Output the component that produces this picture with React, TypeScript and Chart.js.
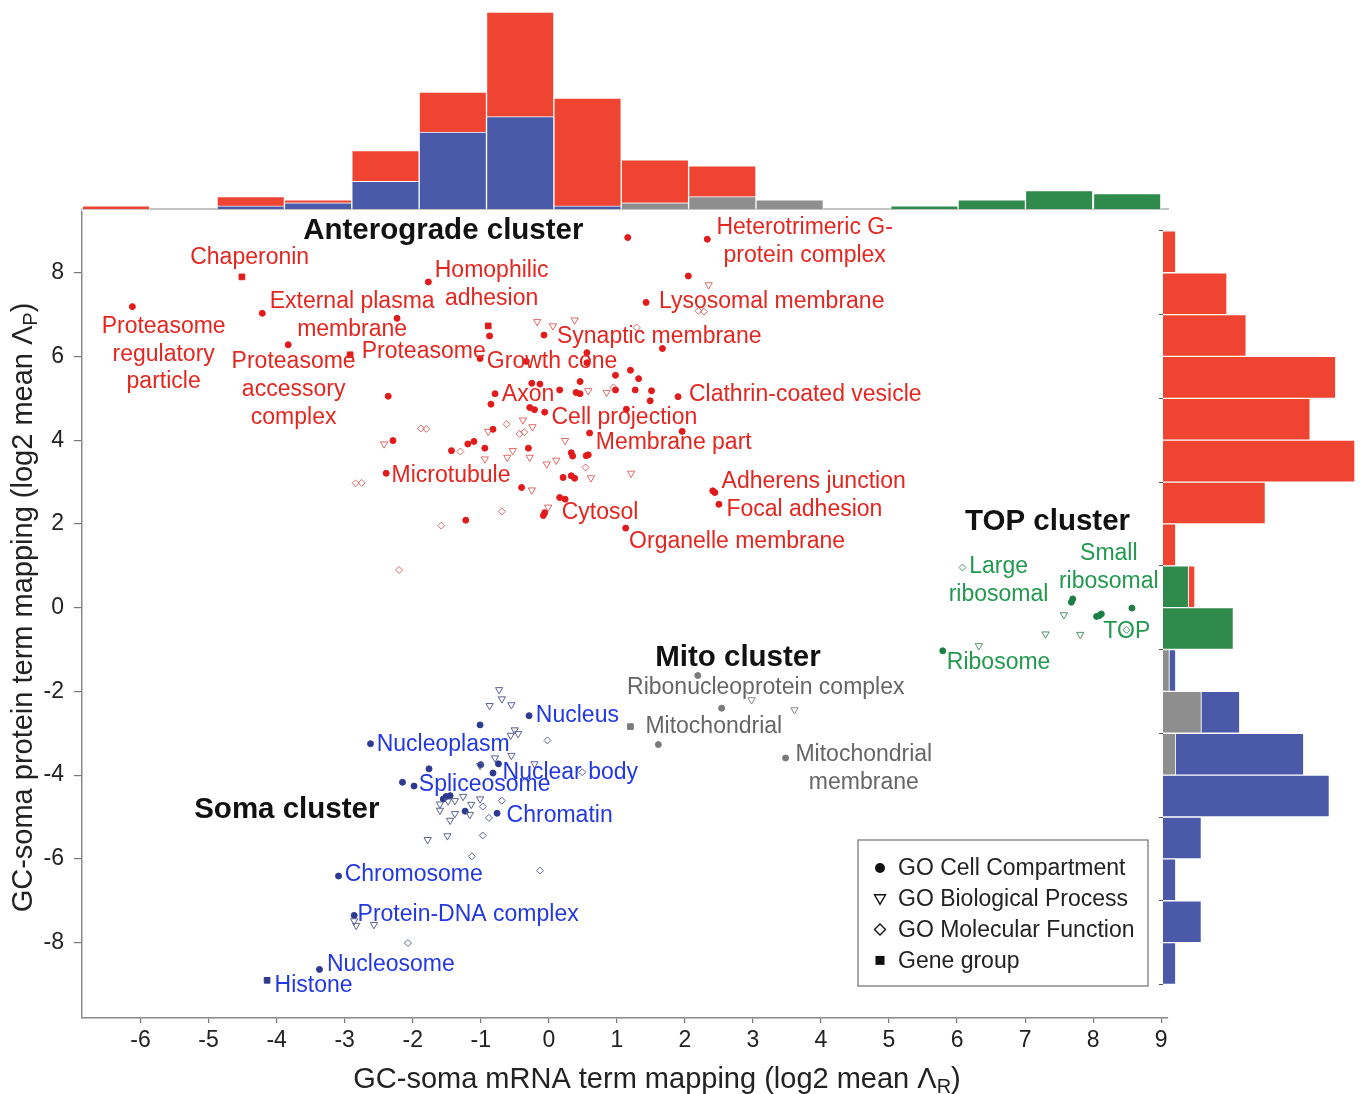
import React, { useEffect, useRef } from 'react';
import { Chart, registerables } from 'chart.js';

Chart.register(...registerables);

const FONT = '"Liberation Sans", Arial, Helvetica, sans-serif';
const W = 1361;
const H = 1094;

// ---------- axes ----------
const X_MIN = -6.86;
const X_MAX = 9.1;
const Y_MIN = -9.8;
const Y_MAX = 9.45;
const xTickValues = [-6, -5, -4, -3, -2, -1, 0, 1, 2, 3, 4, 5, 6, 7, 8, 9];
const yTickValues = [-8, -6, -4, -2, 0, 2, 4, 6, 8];
const xAxisTitle: [string, boolean][] = [['GC-soma mRNA term mapping (log2 mean Λ', false], ['R', true], [')', false]];
const yAxisTitle: [string, boolean][] = [['GC-soma protein term mapping (log2 mean Λ', false], ['P', true], [')', false]];

// ---------- top histogram (counts per mRNA bin) ----------
const topBinCenters = [-6.36, -5.37, -4.38, -3.39, -2.40, -1.41, -0.42, 0.57, 1.56, 2.55, 3.54, 4.53, 5.52, 6.51, 7.50, 8.50];
const topGray = [0, 0, 0, 0, 0, 0, 0, 0, 2, 4, 3, 0, 0, 0, 0, 0];
const topGreen = [0, 0, 0, 0, 0, 0, 0, 0, 0, 0, 0, 0, 1, 3, 6, 5];
const topBlue = [0, 0, 1, 2, 9, 25, 30, 1, 0, 0, 0, 0, 0, 0, 0, 0];
const topRed = [1, 0, 3, 1, 10, 13, 34, 35, 14, 10, 0, 0, 0, 0, 0, 0];

// ---------- right histogram (counts per protein bin) ----------
const rightBinCenters = [8.5, 7.5, 6.5, 5.5, 4.5, 3.5, 2.5, 1.5, 0.5, -0.5, -1.5, -2.5, -3.5, -4.5, -5.5, -6.5, -7.5, -8.5];
const rightGray = [0, 0, 0, 0, 0, 0, 0, 0, 0, 0, 1, 6, 2, 0, 0, 0, 0, 0];
const rightGreen = [0, 0, 0, 0, 0, 0, 0, 0, 4, 11, 0, 0, 0, 0, 0, 0, 0, 0];
const rightBlue = [0, 0, 0, 0, 0, 0, 0, 0, 0, 0, 1, 6, 20, 26, 6, 2, 6, 2];
const rightRed = [2, 10, 13, 27, 23, 30, 16, 2, 1, 0, 0, 0, 0, 0, 0, 0, 0, 0];

// ---------- scatter: [mRNA, protein] ----------
type P = [number, number];
const antCompartment: P[] = [
  [-6.12, 7.19], [-4.21, 7.03], [-3.83, 6.28], [-2.23, 6.91], [-1.77, 7.78], [-0.87, 6.49], [-0.07, 6.51],
  [-1.01, 5.95], [-0.33, 5.88], [-2.36, 5.05], [-0.79, 5.11], [-0.85, 4.86], [-0.25, 5.36], [-0.13, 5.34],
  [0.16, 5.2], [-0.28, 4.78], [-0.21, 4.73], [-0.06, 4.67], [-2.29, 3.99], [-1.43, 3.75], [-1.19, 3.91],
  [-1.1, 3.97], [-0.94, 3.81], [-0.82, 4.26], [-0.3, 3.81], [-2.39, 3.21], [-0.4, 2.87], [-0.08, 2.2],
  [-0.06, 2.27], [-1.22, 2.09], [0.24, 2.59], [0.16, 2.63], [0.33, 3.7], [0.35, 3.62], [0.21, 3.11],
  [0.33, 3.15], [0.38, 3.09], [0.55, 3.63], [0.58, 3.65], [1.16, 8.84], [2.33, 8.8], [2.05, 7.92],
  [1.43, 7.29], [1.67, 6.19], [0.56, 6.09], [0.56, 5.85], [0.98, 5.55], [1.2, 5.67], [1.32, 5.47],
  [0.46, 5.4], [0.4, 5.14], [0.46, 5.11], [0.98, 5.2], [1.27, 5.2], [1.51, 5.18], [1.49, 4.94],
  [1.9, 5.04], [1.14, 4.74], [1.96, 4.21], [0.6, 4.17], [2.41, 2.79], [2.44, 2.75], [2.5, 2.47], [1.13, 1.9],
];
const antProcess: P[] = [
  [-0.17, 6.83], [0.06, 6.73], [0.38, 6.87], [2.35, 7.71], [-2.42, 3.91], [-0.89, 4.21], [-0.94, 3.55],
  [-0.61, 3.59], [-0.53, 3.75], [-0.28, 3.59], [-0.38, 4.48], [-0.24, 4.32], [-0.03, 3.43], [0.11, 3.52],
  [-0.25, 2.81], [-0.01, 2.4], [0.58, 5.18], [0.85, 5.14], [1.21, 3.21], [0.62, 3.1], [0.24, 3.99],
];
const antFunction: P[] = [
  [-1.88, 4.28], [-1.8, 4.27], [-0.62, 4.38], [-0.43, 4.15], [-0.36, 4.19], [-1.3, 3.73], [-2.84, 2.97],
  [-2.75, 2.98], [-0.69, 2.3], [-1.58, 1.96], [-2.2, 0.9], [2.2, 7.09], [2.28, 7.07], [1.29, 6.69],
  [0.95, 5.26], [0.54, 3.35],
];
const antGeneGroup: P[] = [[-4.51, 7.9], [-2.92, 6.04], [-0.89, 6.73]];

const somaCompartment: P[] = [
  [-0.29, -2.58], [-1.01, -2.8], [-2.62, -3.25], [-1.76, -3.85], [-2.15, -4.17], [-1.98, -4.26],
  [-1.0, -3.75], [-0.74, -3.73], [-0.82, -3.95], [-1.51, -4.51], [-1.55, -4.57], [-1.45, -4.49],
  [-1.23, -4.86], [-0.76, -4.91], [-3.09, -6.41], [-2.86, -7.35], [-3.37, -8.64],
];
const somaProcess: P[] = [
  [-0.73, -1.96], [-0.69, -2.18], [-0.87, -2.34], [-0.55, -2.32], [-0.5, -2.92], [-0.56, -3.05],
  [-0.45, -3.01], [-0.55, -3.53], [-0.79, -3.59], [-1.01, -3.77], [-0.21, -3.73], [-1.6, -4.69],
  [-1.48, -4.62], [-1.38, -4.61], [-1.26, -4.51], [-1.14, -4.7], [-1.01, -4.57], [-1.6, -4.84],
  [-1.45, -5.08], [-1.38, -4.92], [-1.16, -4.94], [-1.78, -5.54], [-1.49, -5.45], [-2.83, -7.59],
  [-2.57, -7.57], [-2.86, -7.48],
];
const somaFunction: P[] = [
  [-0.02, -3.17], [-0.69, -4.61], [-0.97, -4.75], [-0.88, -5.02], [-0.97, -5.44], [-1.13, -5.94],
  [-0.13, -6.28], [-2.07, -8.01], [0.49, -3.93],
];
const somaGeneGroup: P[] = [[-4.14, -8.9]];

const mitoCompartment: P[] = [[2.19, -1.62], [2.54, -2.4], [1.61, -3.27], [3.48, -3.59]];
const mitoProcess: P[] = [[2.98, -2.2], [3.61, -2.44]];
const mitoGeneGroup: P[] = [[1.2, -2.84]];

const topCompartment: P[] = [[7.7, 0.21], [7.68, 0.13], [8.05, -0.21], [8.12, -0.15], [8.09, -0.19], [8.57, -0.01], [5.79, -1.03]];
const topProcess: P[] = [[7.57, -0.17], [7.3, -0.63], [7.81, -0.64], [6.32, -0.91]];
const topFunction: P[] = [[6.08, 0.96], [8.49, -0.53]];

// ---------- annotations (anchored in data coordinates) ----------
type Lbl = { text: string[]; x: number; y: number; align: CanvasTextAlign };
const clusterTitles: Lbl[] = [
  { text: ['Anterograde cluster'], x: -1.55, y: 9.0, align: 'center' },
  { text: ['Mito cluster'], x: 2.78, y: -1.19, align: 'center' },
  { text: ['TOP cluster'], x: 7.33, y: 2.05, align: 'center' },
  { text: ['Soma cluster'], x: -3.85, y: -4.82, align: 'center' },
];
const antLabels: Lbl[] = [
  { text: ['Chaperonin'], x: -5.27, y: 8.35, align: 'left' },
  { text: ['Proteasome', 'regulatory', 'particle'], x: -5.66, y: 6.71, align: 'center' },
  { text: ['External plasma', 'membrane'], x: -2.89, y: 7.3, align: 'center' },
  { text: ['Homophilic', 'adhesion'], x: -0.84, y: 8.04, align: 'center' },
  { text: ['Proteasome', 'accessory', 'complex'], x: -3.75, y: 5.87, align: 'center' },
  { text: ['Proteasome'], x: -2.75, y: 6.11, align: 'left' },
  { text: ['Synaptic membrane'], x: 0.12, y: 6.47, align: 'left' },
  { text: ['Growth cone'], x: -0.91, y: 5.87, align: 'left' },
  { text: ['Axon'], x: -0.69, y: 5.08, align: 'left' },
  { text: ['Cell projection'], x: 0.04, y: 4.53, align: 'left' },
  { text: ['Membrane part'], x: 0.69, y: 3.94, align: 'left' },
  { text: ['Microtubule'], x: -2.31, y: 3.15, align: 'left' },
  { text: ['Cytosol'], x: 0.19, y: 2.27, align: 'left' },
  { text: ['Organelle membrane'], x: 1.18, y: 1.58, align: 'left' },
  { text: ['Adherens junction'], x: 2.54, y: 3.01, align: 'left' },
  { text: ['Focal adhesion'], x: 2.61, y: 2.34, align: 'left' },
  { text: ['Clathrin-coated vesicle'], x: 2.06, y: 5.08, align: 'left' },
  { text: ['Lysosomal membrane'], x: 1.62, y: 7.3, align: 'left' },
  { text: ['Heterotrimeric G-', 'protein complex'], x: 3.76, y: 9.07, align: 'center' },
];
const topLabels: Lbl[] = [
  { text: ['Large', 'ribosomal'], x: 6.61, y: 0.98, align: 'center' },
  { text: ['Small', 'ribosomal'], x: 8.23, y: 1.29, align: 'center' },
  { text: ['TOP'], x: 8.15, y: -0.57, align: 'left' },
  { text: ['Ribosome'], x: 5.85, y: -1.31, align: 'left' },
];
const mitoLabels: Lbl[] = [
  { text: ['Ribonucleoprotein complex'], x: 1.15, y: -1.91, align: 'left' },
  { text: ['Mitochondrial'], x: 1.42, y: -2.84, align: 'left' },
  { text: ['Mitochondrial', 'membrane'], x: 4.63, y: -3.51, align: 'center' },
];
const somaLabels: Lbl[] = [
  { text: ['Nucleus'], x: -0.19, y: -2.58, align: 'left' },
  { text: ['Nucleoplasm'], x: -2.53, y: -3.27, align: 'left' },
  { text: ['Nuclear body'], x: -0.68, y: -3.94, align: 'left' },
  { text: ['Spliceosome'], x: -1.91, y: -4.22, align: 'left' },
  { text: ['Chromatin'], x: -0.62, y: -4.96, align: 'left' },
  { text: ['Chromosome'], x: -3.0, y: -6.37, align: 'left' },
  { text: ['Protein-DNA complex'], x: -2.81, y: -7.33, align: 'left' },
  { text: ['Nucleosome'], x: -3.26, y: -8.52, align: 'left' },
  { text: ['Histone'], x: -4.03, y: -9.02, align: 'left' },
];
const legendItems = ['GO Cell Compartment', 'GO Biological Process', 'GO Molecular Function', 'Gene group'];
const legendMarkers = ['circle', 'triangleDown', 'diamond', 'square'];

// ---------- colours ----------
const C = {
  histRed: '#EE4431', histBlue: '#4A5AA8', histGray: '#8E8E8E', histGreen: '#2F8A4B',
  redFill: '#E11B1B', redOpen: 'rgba(214,70,70,0.8)', redText: '#E3261F',
  blueFill: '#2E3A8F', blueOpen: '#5B6393', blueText: '#2338E0',
  grayFill: '#7A7A7A', grayOpen: '#8A8A8A', grayText: '#666666',
  greenFill: '#1C7F45', greenOpen: '#4E9467', greenText: '#22994F',
};

function scatterSet(points: P[], kind: string, color: string) {
  const base: any = {
    data: points.map(([x, y]) => ({ x, y })),
    borderColor: color,
    borderWidth: 1,
  };
  if (kind === 'circle') return { ...base, pointStyle: 'circle', pointRadius: 3, backgroundColor: color };
  if (kind === 'square') return { ...base, pointStyle: 'rect', pointRadius: 4, backgroundColor: color };
  if (kind === 'triangle') return { ...base, pointStyle: 'triangle', pointRotation: 180, pointRadius: 4.2, backgroundColor: 'rgba(255,255,255,0)' };
  return { ...base, pointStyle: 'rectRot', pointRadius: 3.5, backgroundColor: 'rgba(255,255,255,0)' };
}

function drawMarker(ctx: CanvasRenderingContext2D, kind: string, x: number, y: number) {
  ctx.beginPath();
  ctx.fillStyle = '#111';
  ctx.strokeStyle = '#111';
  ctx.lineWidth = 1.4;
  if (kind === 'circle') { ctx.arc(x, y, 5, 0, Math.PI * 2); ctx.fill(); }
  else if (kind === 'square') { ctx.rect(x - 4.5, y - 4.5, 9, 9); ctx.fill(); }
  else if (kind === 'triangleDown') { ctx.moveTo(x - 5.5, y - 4); ctx.lineTo(x + 5.5, y - 4); ctx.lineTo(x, y + 5.5); ctx.closePath(); ctx.stroke(); }
  else { ctx.moveTo(x, y - 5.5); ctx.lineTo(x + 5.5, y); ctx.lineTo(x, y + 5.5); ctx.lineTo(x - 5.5, y); ctx.closePath(); ctx.stroke(); }
}

function drawTitle(ctx: CanvasRenderingContext2D, parts: [string, boolean][], cx: number, cy: number, vertical: boolean) {
  ctx.save();
  ctx.translate(cx, cy);
  if (vertical) ctx.rotate(-Math.PI / 2);
  const big = `29px ${FONT}`;
  const small = `20px ${FONT}`;
  const widths = parts.map(([t, sub]) => { ctx.font = sub ? small : big; return ctx.measureText(t).width; });
  const total = widths.reduce((a, b) => a + b, 0);
  let x = -total / 2;
  ctx.textAlign = 'left';
  ctx.textBaseline = 'alphabetic';
  ctx.fillStyle = '#222';
  parts.forEach(([t, sub], i) => {
    ctx.font = sub ? small : big;
    ctx.fillText(t, x, sub ? 15 : 10.4);
    x += widths[i];
  });
  ctx.restore();
}

const annotationPlugin = {
  id: 'annotations',
  afterDatasetsDraw(chart: any) {
    const { ctx, chartArea, scales } = chart;
    const xs = scales.x;
    const ys = scales.y;
    ctx.save();
    const groups: [Lbl[], string, string][] = [
      [antLabels, C.redText, `23px ${FONT}`],
      [somaLabels, C.blueText, `23px ${FONT}`],
      [mitoLabels, C.grayText, `23px ${FONT}`],
      [topLabels, C.greenText, `23px ${FONT}`],
      [clusterTitles, '#111', `bold 29.5px ${FONT}`],
    ];
    for (const [items, color, font] of groups) {
      ctx.fillStyle = color;
      ctx.font = font;
      ctx.textBaseline = 'middle';
      for (const l of items) {
        const px = xs.getPixelForValue(l.x);
        const py = ys.getPixelForValue(l.y);
        ctx.textAlign = l.align;
        l.text.forEach((line, i) => ctx.fillText(line, px, py + i * 27.7));
      }
    }
    // legend box
    const lx = chartArea.right - 310;
    const ly = chartArea.bottom - 178;
    ctx.fillStyle = '#fff';
    ctx.fillRect(lx, ly, 290, 146);
    ctx.strokeStyle = '#8c8c8c';
    ctx.lineWidth = 1.5;
    ctx.strokeRect(lx, ly, 290, 146);
    legendItems.forEach((txt, i) => {
      const cy = ly + 28 + i * 30.8;
      drawMarker(ctx, legendMarkers[i], lx + 22, cy);
      ctx.fillStyle = '#222';
      ctx.font = `23px ${FONT}`;
      ctx.textAlign = 'left';
      ctx.textBaseline = 'middle';
      ctx.fillText(txt, lx + 40, cy + 1);
    });
    // axis titles
    drawTitle(ctx, xAxisTitle, chartArea.left + 575, chartArea.bottom + 60, false);
    drawTitle(ctx, yAxisTitle, 22, (chartArea.top + chartArea.bottom) / 2 - 7.5, true);
    ctx.restore();
  },
};

function barData(values: number[], centers: number[], horizontal: boolean) {
  const out: { x: number; y: number }[] = [];
  values.forEach((v, i) => {
    if (v > 0) out.push(horizontal ? { x: v, y: centers[i] } : { x: centers[i], y: v });
  });
  return out;
}

function histSet(values: number[], centers: number[], color: string, horizontal: boolean) {
  return {
    data: barData(values, centers, horizontal) as any,
    backgroundColor: color,
    borderColor: 'rgba(255,255,255,0.75)',
    borderWidth: 1,
    barPercentage: 1,
    categoryPercentage: 1,
  };
}

export default function App() {
  const mainRef = useRef<HTMLCanvasElement>(null);
  const topRef = useRef<HTMLCanvasElement>(null);
  const rightRef = useRef<HTMLCanvasElement>(null);

  useEffect(() => {
    Chart.defaults.font.family = FONT;
    const charts: Chart[] = [];

    charts.push(new Chart(mainRef.current!, {
      type: 'scatter',
      data: {
        datasets: [
          scatterSet(antProcess, 'triangle', C.redOpen),
          scatterSet(antFunction, 'diamond', C.redOpen),
          scatterSet(antCompartment, 'circle', C.redFill),
          scatterSet(antGeneGroup, 'square', C.redFill),
          scatterSet(somaProcess, 'triangle', C.blueOpen),
          scatterSet(somaFunction, 'diamond', C.blueOpen),
          scatterSet(somaCompartment, 'circle', C.blueFill),
          scatterSet(somaGeneGroup, 'square', C.blueFill),
          scatterSet(mitoProcess, 'triangle', C.grayOpen),
          scatterSet(mitoCompartment, 'circle', C.grayFill),
          scatterSet(mitoGeneGroup, 'square', C.grayFill),
          scatterSet(topProcess, 'triangle', C.greenOpen),
          scatterSet(topFunction, 'diamond', C.greenOpen),
          scatterSet(topCompartment, 'circle', C.greenFill),
        ],
      },
      options: {
        responsive: false,
        animation: false,
        layout: { padding: { top: 212, right: 193, left: 0, bottom: 0 } },
        plugins: { legend: { display: false }, tooltip: { enabled: false } },
        scales: {
          x: {
            type: 'linear', min: X_MIN, max: X_MAX,
            afterFit: (s: any) => { s.height = 76; },
            afterBuildTicks: (s: any) => { s.ticks = xTickValues.map((v) => ({ value: v })); },
            grid: { drawOnChartArea: false, tickLength: 5, color: '#777', lineWidth: 1.2 },
            border: { color: '#888', width: 1.5 },
            ticks: { font: { family: FONT, size: 23 }, color: '#222', padding: 4, maxRotation: 0, autoSkip: false, callback: (v: any) => String(v) },
          },
          y: {
            type: 'linear', min: Y_MIN, max: Y_MAX,
            afterFit: (s: any) => { s.width = 82; },
            afterBuildTicks: (s: any) => { s.ticks = yTickValues.map((v) => ({ value: v })); },
            grid: { drawOnChartArea: false, tickLength: 8, color: '#777', lineWidth: 1.2 },
            border: { color: '#888', width: 1.5 },
            ticks: { font: { family: FONT, size: 23 }, color: '#222', padding: 10, autoSkip: false, callback: (v: any) => String(v) },
          },
        },
      },
      plugins: [annotationPlugin],
    } as any));

    charts.push(new Chart(topRef.current!, {
      type: 'bar',
      data: {
        datasets: [
          histSet(topGray, topBinCenters, C.histGray, false),
          histSet(topGreen, topBinCenters, C.histGreen, false),
          histSet(topBlue, topBinCenters, C.histBlue, false),
          histSet(topRed, topBinCenters, C.histRed, false),
        ],
      },
      options: {
        responsive: false,
        animation: false,
        layout: { padding: { top: 0, right: 193, left: 82, bottom: 0 } },
        plugins: { legend: { display: false }, tooltip: { enabled: false } },
        scales: {
          x: {
            type: 'linear', min: X_MIN, max: X_MAX, stacked: true, offset: false,
            afterFit: (s: any) => { s.height = 3; },
            afterBuildTicks: (s: any) => { s.ticks = topBinCenters.map((v) => ({ value: v })); },
            grid: { display: false },
            border: { color: '#c4c4c4', width: 2 },
            ticks: { display: false },
          },
          y: { display: false, min: 0, max: 67.9, stacked: true },
        },
      },
    } as any));

    charts.push(new Chart(rightRef.current!, {
      type: 'bar',
      data: {
        datasets: [
          histSet(rightGray, rightBinCenters, C.histGray, true),
          histSet(rightGreen, rightBinCenters, C.histGreen, true),
          histSet(rightBlue, rightBinCenters, C.histBlue, true),
          histSet(rightRed, rightBinCenters, C.histRed, true),
        ],
      },
      options: {
        indexAxis: 'y',
        responsive: false,
        animation: false,
        layout: { padding: { top: 212, right: 0, left: 1159, bottom: 76 } },
        plugins: { legend: { display: false }, tooltip: { enabled: false } },
        scales: {
          x: { display: false, min: 0, max: 30.94, stacked: true },
          y: {
            type: 'linear', min: Y_MIN, max: Y_MAX, stacked: true, offset: false,
            afterFit: (s: any) => { s.width = 4; },
            afterBuildTicks: (s: any) => { s.ticks = yTickValues.map((v) => ({ value: v })); },
            grid: { drawOnChartArea: false, tickLength: 4, color: '#555' },
            border: { display: false },
            ticks: { display: false },
          },
        },
      },
    } as any));

    return () => charts.forEach((c) => c.destroy());
  }, []);

  const abs: React.CSSProperties = { position: 'absolute', left: 0, top: 0 };
  return (
    <div style={{ position: 'fixed', left: 0, top: 0, width: W, height: H, background: '#fff', overflow: 'hidden' }}>
      <canvas ref={mainRef} width={W} height={H} style={{ ...abs, width: W, height: H }} />
      <canvas ref={rightRef} width={W} height={H} style={{ ...abs, width: W, height: H }} />
      <canvas ref={topRef} width={W} height={212} style={{ ...abs, width: W, height: 212 }} />
    </div>
  );
}
